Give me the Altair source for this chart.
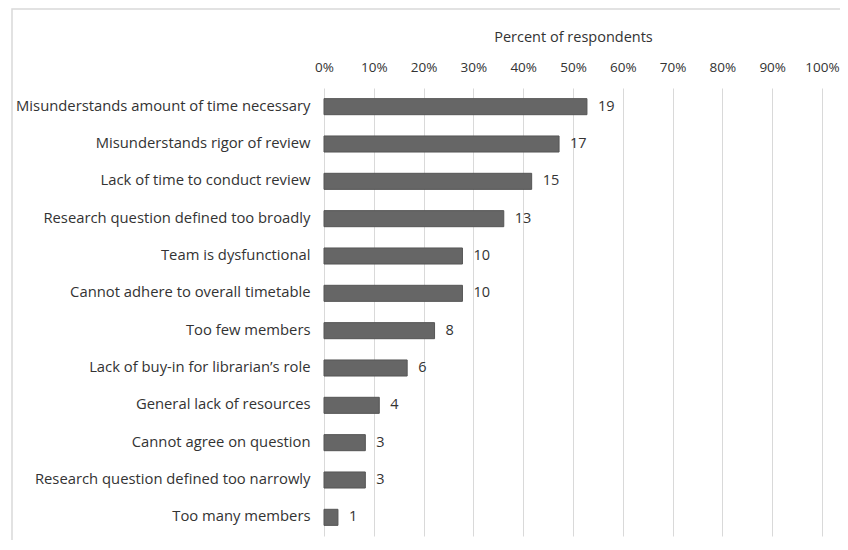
import altair as alt
import pandas as pd

categories = [
    "Misunderstands amount of time necessary",
    "Misunderstands rigor of review",
    "Lack of time to conduct review",
    "Research question defined too broadly",
    "Team is dysfunctional",
    "Cannot adhere to overall timetable",
    "Too few members",
    "Lack of buy-in for librarian\u2019s role",
    "General lack of resources",
    "Cannot agree on question",
    "Research question defined too narrowly",
    "Too many members",
]
counts = [19, 17, 15, 13, 10, 10, 8, 6, 4, 3, 3, 1]
percents = [0.528, 0.472, 0.417, 0.361, 0.278, 0.278, 0.222, 0.167, 0.111, 0.083, 0.083, 0.028]

df = pd.DataFrame({"cat": categories, "n": counts, "pct": percents})

FONT = "Open Sans"
TXT = "#333333"

x = alt.X("pct:Q", scale=alt.Scale(domain=[0, 1], nice=False),
          axis=alt.Axis(orient="top", format=".0%", values=[i / 10 for i in range(11)],
                        title="Percent of respondents", titleFont=FONT, titleFontSize=14.5,
                        titleFontWeight="normal", titleColor=TXT, titlePadding=16,
                        labelFont=FONT, labelFontSize=13.5, labelColor=TXT, labelPadding=14,
                        domain=False, ticks=False, grid=True, gridColor="#d9d9d9",
                        labelFlush=False))
y = alt.Y("cat:N", sort=categories, scale=alt.Scale(paddingInner=0.57, paddingOuter=0.285),
          axis=alt.Axis(title=None, labelFont=FONT, labelFontSize=14.8, labelColor=TXT,
                        labelPadding=14, domain=False, ticks=False, labelLimit=400))

frame = alt.Chart(df).mark_rect(fill=None, stroke="#d9d9d9", strokeWidth=1.5, clip=False).encode(
    x=alt.value(-312), x2=alt.value(560), y=alt.value(-79), y2=alt.value(480)
).transform_filter("datum.n == 19")

bars = alt.Chart(df).mark_bar(color="#666666", stroke="#555555", strokeWidth=1).encode(x=x, y=y)
labels = alt.Chart(df).mark_text(align="left", dx=11, font=FONT, fontSize=14.5, color=TXT).encode(
    x="pct:Q", y=alt.Y("cat:N", sort=categories), text="n:Q")

chart = alt.layer(frame, bars, labels).properties(
    width=498, height=448,
    autosize=alt.AutoSizeParams(type="none"),
    padding={"left": 316, "top": 80, "right": 18, "bottom": 4},
).configure_view(stroke=None)

chart.save("out.html", embed_options={"renderer": "svg", "actions": False})
